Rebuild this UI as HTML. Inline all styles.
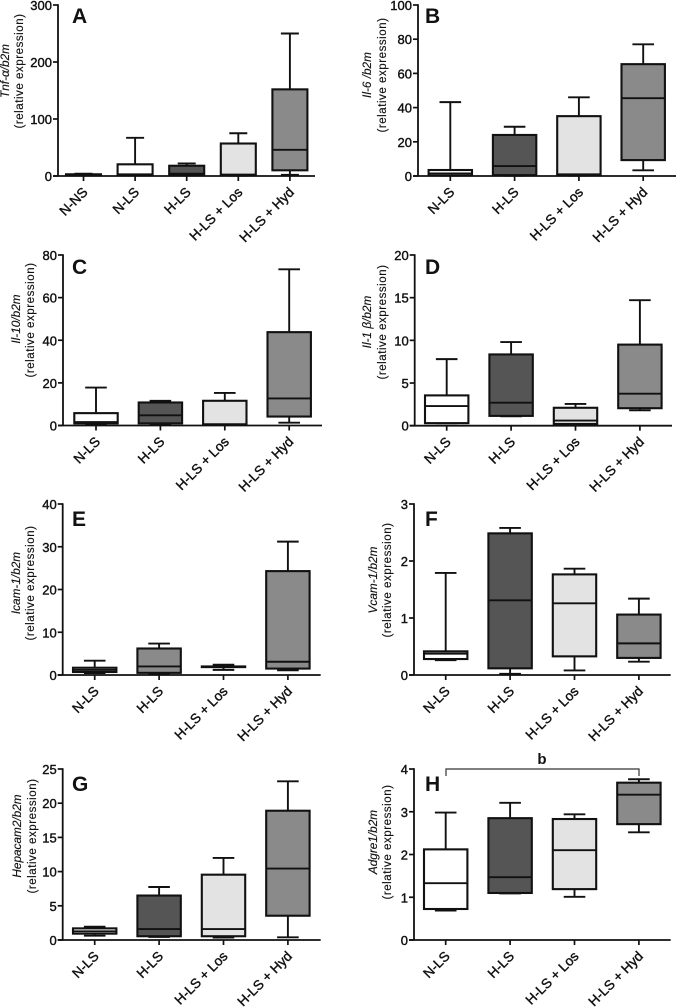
<!DOCTYPE html>
<html lang="en">
<head>
<meta charset="utf-8">
<title>Relative expression box plots</title>
<style>
  html, body { margin: 0; padding: 0; background: #fff; }
  svg { display: block; }
  text { font-family: "Liberation Sans", sans-serif; fill: #111; }
  .tick-label { font-size: 13px; stroke: #111; stroke-width: .4px; }
  .cat-label { font-size: 13.6px; stroke: #111; stroke-width: .4px; }
  .panel-letter { font-size: 21px; font-weight: bold; }
  .gene-title { font-size: 11.8px; font-style: italic; text-anchor: middle; stroke: #111; stroke-width: .15px; }
  .unit-title { font-size: 11.5px; letter-spacing: .55px; text-anchor: middle; stroke: #111; stroke-width: .15px; }
</style>
</head>
<body>
<svg id="figure" xmlns="http://www.w3.org/2000/svg" width="676" height="1007" viewBox="0 0 676 1007">
  <rect width="676" height="1007" fill="#fff"/>

  <g id="panel-A">
    <text class="panel-letter" x="72" y="23">A</text>
    <text class="gene-title" transform="translate(9,71) rotate(-90)">Tnf-α/b2m</text>
    <text class="unit-title" transform="translate(23,71) rotate(-90)">(relative expression)</text>
  </g>
  <g id="panel-B">
    <text class="panel-letter" x="425" y="23">B</text>
    <text class="gene-title" transform="translate(371,75) rotate(-90)">Il-6 /b2m</text>
    <text class="unit-title" transform="translate(386,75) rotate(-90)">(relative expression)</text>
  </g>
  <g id="panel-C">
    <text class="panel-letter" x="72" y="274">C</text>
    <text class="gene-title" transform="translate(20,319) rotate(-90)">Il-10/b2m</text>
    <text class="unit-title" transform="translate(34,320) rotate(-90)">(relative expression)</text>
  </g>
  <g id="panel-D">
    <text class="panel-letter" x="425" y="274">D</text>
    <text class="gene-title" transform="translate(371,322) rotate(-90)">Il-1 β/b2m</text>
    <text class="unit-title" transform="translate(386,322) rotate(-90)">(relative expression)</text>
  </g>
  <g id="panel-E">
    <text class="panel-letter" x="72" y="526">E</text>
    <text class="gene-title" transform="translate(20,583) rotate(-90)">Icam-1/b2m</text>
    <text class="unit-title" transform="translate(34,583) rotate(-90)">(relative expression)</text>
  </g>
  <g id="panel-F">
    <text class="panel-letter" x="425" y="526">F</text>
    <text class="gene-title" transform="translate(377,580) rotate(-90)">Vcam-1/b2m</text>
    <text class="unit-title" transform="translate(391,580) rotate(-90)">(relative expression)</text>
  </g>
  <g id="panel-G">
    <text class="panel-letter" x="72" y="791">G</text>
    <text class="gene-title" transform="translate(21,836) rotate(-90)">Hepacam2/b2m</text>
    <text class="unit-title" transform="translate(36,836) rotate(-90)">(relative expression)</text>
  </g>
  <g id="panel-H">
    <text class="panel-letter" x="425" y="791">H</text>
    <text class="gene-title" transform="translate(377,842) rotate(-90)">Adgre1/b2m</text>
    <text class="unit-title" transform="translate(391,842) rotate(-90)">(relative expression)</text>
    <path d="M446 776V769H639V776" fill="none" stroke="#333" stroke-width="1.2"/>
    <text x="542" y="764" text-anchor="middle" font-size="15" font-weight="bold">b</text>
  </g>
</svg>

<script>
// ---- Data: each box is [low whisker, Q1, median, Q3, high whisker] ----
const categoriesFive = ['N-NS', 'N-LS', 'H-LS', 'H-LS + Los', 'H-LS + Hyd'];
const categoriesFour = ['N-LS', 'H-LS', 'H-LS + Los', 'H-LS + Hyd'];

const ticksA = [0, 100, 200, 300];
const ticksB = [0, 20, 40, 60, 80, 100];
const ticksC = [0, 20, 40, 60, 80];
const ticksD = [0, 5, 10, 15, 20];
const ticksE = [0, 10, 20, 30, 40];
const ticksF = [0, 1, 2, 3];
const ticksG = [0, 5, 10, 15, 20, 25];
const ticksH = [0, 1, 2, 3, 4];

const valuesA = [[1, 1, 2, 3, 4], [1, 2, 3, 20.5, 67], [1, 1, 4, 18, 22], [0.5, 1, 2.5, 57, 75], [2, 10, 46, 152, 250]];
const valuesB = [[0.2, 0.3, 1.5, 3.5, 43.2], [0.2, 0.5, 5.8, 24, 28.8], [0.2, 0.4, 1, 35, 46], [3.3, 9.3, 45.5, 65.4, 77]];
const valuesC = [[0.5, 1, 1.6, 5.8, 17.8], [0.5, 1, 4.8, 10.8, 11.6], [0.2, 0.3, 0.6, 11.6, 15.3], [1.3, 4.2, 12.7, 43.8, 73.3]];
const valuesD = [[0.3, 0.3, 2.3, 3.55, 7.8], [1.1, 1.15, 2.7, 8.35, 9.8], [0.1, 0.2, 0.6, 2.1, 2.55], [1.8, 2.05, 3.75, 9.5, 14.7]];
const valuesE = [[0.45, 0.7, 1.2, 1.7, 3.35], [0.25, 0.5, 2, 6.2, 7.35], [1.2, 1.85, 1.9, 2, 2.4], [1.1, 1.5, 3.1, 24.3, 31.2]];
const valuesF = [[0.26, 0.28, 0.375, 0.415, 1.79], [0.02, 0.117, 1.31, 2.485, 2.58], [0.08, 0.327, 1.257, 1.765, 1.865], [0.234, 0.3, 0.555, 1.06, 1.34]];
const valuesG = [[0.63, 0.93, 1.27, 1.7, 1.95], [0.45, 0.55, 1.6, 6.5, 7.75], [0.35, 0.55, 1.6, 9.55, 12], [0.4, 3.55, 10.45, 18.9, 23.2]];
const valuesH = [[0.69, 0.725, 1.33, 2.12, 2.98], [1.09, 1.1, 1.47, 2.85, 3.21], [1.01, 1.19, 2.1, 2.83, 2.94], [2.52, 2.71, 3.4, 3.68, 3.76]];

// ---- Layout ----
const fillByCategory = { 'N-NS': '#ffffff', 'N-LS': '#ffffff', 'H-LS': '#555555', 'H-LS + Los': '#e3e3e3', 'H-LS + Hyd': '#8a8a8a' };

const layouts = [
  { id: 'A', cats: categoriesFive, ticks: ticksA, vals: valuesA, axisX: 58,  top: 5,   zero: 176, endX: 315, first: 83.5,  step: 51.6, boxHalf: 17.5, capHalf: 9 },
  { id: 'B', cats: categoriesFour, ticks: ticksB, vals: valuesB, axisX: 418, top: 5,   zero: 176, endX: 676, first: 450.3, step: 64.3, boxHalf: 21.7, capHalf: 10.8 },
  { id: 'C', cats: categoriesFour, ticks: ticksC, vals: valuesC, axisX: 63,  top: 255, zero: 425.5, endX: 322, first: 96,  step: 64.4, boxHalf: 21.7, capHalf: 10.8 },
  { id: 'D', cats: categoriesFour, ticks: ticksD, vals: valuesD, axisX: 414.7, top: 255, zero: 425.7, endX: 672, first: 446.7, step: 64.4, boxHalf: 21.7, capHalf: 10.8 },
  { id: 'E', cats: categoriesFour, ticks: ticksE, vals: valuesE, axisX: 62.7, top: 504, zero: 675, endX: 320.7, first: 94.7, step: 64.4, boxHalf: 21.7, capHalf: 10.8, fills: { 'H-LS': '#8a8a8a' } },
  { id: 'F', cats: categoriesFour, ticks: ticksF, vals: valuesF, axisX: 414, top: 504, zero: 675, endX: 670.7, first: 445.7, step: 64.4, boxHalf: 21.7, capHalf: 10.8 },
  { id: 'G', cats: categoriesFour, ticks: ticksG, vals: valuesG, axisX: 62.7, top: 769, zero: 940, endX: 320.7, first: 94.7, step: 64.4, boxHalf: 21.7, capHalf: 10.8 },
  { id: 'H', cats: categoriesFour, ticks: ticksH, vals: valuesH, axisX: 414, top: 769, zero: 940, endX: 670.7, first: 445.7, step: 64.4, boxHalf: 21.7, capHalf: 10.8 }
];

const NS = 'http://www.w3.org/2000/svg';

function make(parent, tag, props) {
  const node = document.createElementNS(NS, tag);
  for (const key in props) node.setAttribute(key, props[key]);
  parent.appendChild(node);
  return node;
}

function yScale(p) {
  const max = p.ticks[p.ticks.length - 1];
  return v => p.zero - (v / max) * (p.zero - p.top);
}

function xScale(p) {
  return i => p.first + i * p.step;
}

function drawAxes(p, g, y, x) {
  const prefix = 'panel-' + p.id.toLowerCase();
  const yAxis = make(g, 'line', { x1: p.axisX, x2: p.axisX, y1: p.top - 0.8, y2: p.zero, stroke: '#111', 'stroke-width': 1.8 });
  
  
  const xAxis = make(g, 'line', { x1: p.axisX - 5, x2: p.endX, y1: p.zero, y2: p.zero, stroke: '#111', 'stroke-width': 1.8 });
  
  

  p.ticks.forEach(t => {
    const ty = y(t);
    const tick = make(g, 'line', { x1: p.axisX - 5, x2: p.axisX, y1: ty, y2: ty, stroke: '#111', 'stroke-width': 1.7 });
    
    
    const label = make(g, 'text', { x: p.axisX - 6, y: ty + 5, 'text-anchor': 'end', class: 'tick-label' });
    
    
    label.textContent = t;
  });

  p.cats.forEach((c, i) => {
    const cx = x(i);
    const tick = make(g, 'line', { x1: cx, x2: cx, y1: p.zero, y2: p.zero + 5, stroke: '#111', 'stroke-width': 1.7 });
    
    
    const label = make(g, 'text', { 'text-anchor': 'end', class: 'cat-label', transform: 'translate(' + (cx + 5) + ',' + (p.zero + 17) + ') rotate(-45)' });
    
    
    label.textContent = c;
  });
}

function drawBox(p, g, y, x, row, i) {
  const prefix = 'panel-' + p.id.toLowerCase() + '-' + p.cats[i].toLowerCase().replace(/[^a-z]+/g, '-');
  const cx = x(i);
  const lo = y(row[0]), q1 = y(row[1]), med = y(row[2]), q3 = y(row[3]), hi = y(row[4]);
  const fill = (p.fills && p.fills[p.cats[i]]) || fillByCategory[p.cats[i]];
  const whisker = make(g, 'path', {
    d: 'M' + cx + ' ' + lo + 'V' + hi + 'M' + (cx - p.capHalf) + ' ' + hi + 'H' + (cx + p.capHalf) + 'M' + (cx - p.capHalf) + ' ' + lo + 'H' + (cx + p.capHalf),
    fill: 'none', stroke: '#111', 'stroke-width': 1.9
  });
  
  
  const box = make(g, 'rect', {
    x: cx - p.boxHalf, y: q3, width: p.boxHalf * 2, height: q1 - q3,
    fill: fill, stroke: '#111', 'stroke-width': 2.1
  });
  
  
  const median = make(g, 'line', { x1: cx - p.boxHalf, x2: cx + p.boxHalf, y1: med, y2: med, stroke: '#111', 'stroke-width': 1.9 });
  
  
}

layouts.forEach(p => {
  const g = document.getElementById('panel-' + p.id);
  const y = yScale(p);
  const x = xScale(p);
  p.vals.forEach((row, i) => drawBox(p, g, y, x, row, i));
  drawAxes(p, g, y, x);
});
</script>
</body>
</html>
